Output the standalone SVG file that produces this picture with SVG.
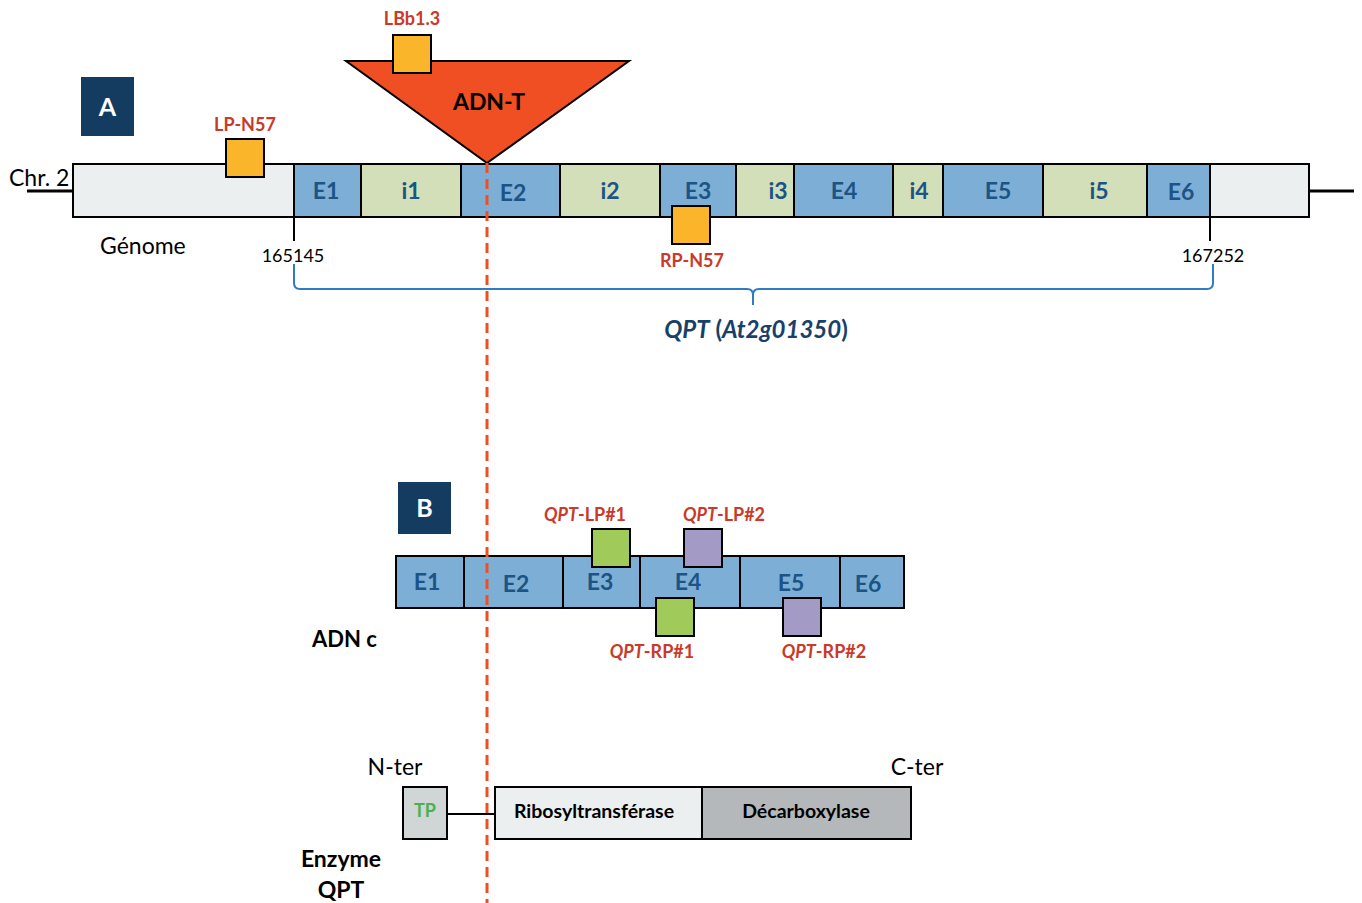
<svg xmlns="http://www.w3.org/2000/svg" width="1362" height="903" viewBox="0 0 1362 903">
<style>
text{font-family:Lato,"Open Sans","Liberation Sans",sans-serif}
.ex{fill:#7DAFD6;stroke:#000;stroke-width:2}
.in{fill:#D2DFB8;stroke:#000;stroke-width:2}
.fl{fill:#ECEFEF;stroke:#000;stroke-width:2}
.lab{font-weight:bold;font-size:23px;fill:#1B5485;text-anchor:middle}
.pr{font-weight:bold;font-size:18px;fill:#C93A2A;text-anchor:middle}
.yl{fill:#FBB52B;stroke:#000;stroke-width:2}
.gr{fill:#A0CA59;stroke:#000;stroke-width:2}
.pu{fill:#A39BC5;stroke:#000;stroke-width:2}
.num{font-size:18px;fill:#000;text-anchor:middle}
.blk{font-size:23px;fill:#000}
</style>
<g id="connectors">
<line x1="27" y1="191" x2="73" y2="191" stroke="#000" stroke-width="3"/>
<line x1="1309" y1="191" x2="1354" y2="191" stroke="#000" stroke-width="3"/>
<line x1="294" y1="218" x2="294" y2="241" stroke="#000" stroke-width="2"/>
<line x1="1210" y1="218" x2="1210" y2="241" stroke="#000" stroke-width="2"/>
<path d="M294 264 L294 283 Q294 289 300 289 L747 289 Q753 289 753 295 L753 305 M753 305 L753 295 Q753 289 759 289 L1207 289 Q1213 289 1213 283 L1213 264" fill="none" stroke="#2E7DC0" stroke-width="2"/>
<line x1="447" y1="814" x2="495" y2="814" stroke="#000" stroke-width="2"/>
</g>
<g id="label-A"><rect x="81" y="77" width="53" height="59" fill="#143C60"/><text x="107.5" y="116" font-size="25" font-weight="bold" fill="#fff" text-anchor="middle">A</text></g>
<g id="label-B"><rect x="398" y="482" width="53" height="52" fill="#143C60"/><text x="424.5" y="517" font-size="25" font-weight="bold" fill="#fff" text-anchor="middle">B</text></g>
<g id="chr"><text class="blk" x="9" y="186">Chr. 2</text><text class="blk" x="100" y="254" font-size="24">Génome</text></g>
<g id="genome">
<rect class="fl" x="73" y="164" width="221" height="53"/>
<rect class="ex" x="294" y="164" width="67" height="53"/>
<rect class="in" x="361" y="164" width="100" height="53"/>
<rect class="ex" x="461" y="164" width="99" height="53"/>
<rect class="in" x="560" y="164" width="100" height="53"/>
<rect class="ex" x="660" y="164" width="76" height="53"/>
<rect class="in" x="736" y="164" width="58" height="53"/>
<rect class="ex" x="794" y="164" width="99" height="53"/>
<rect class="in" x="893" y="164" width="50" height="53"/>
<rect class="ex" x="943" y="164" width="100" height="53"/>
<rect class="in" x="1043" y="164" width="104" height="53"/>
<rect class="ex" x="1147" y="164" width="63" height="53"/>
<rect class="fl" x="1210" y="164" width="99" height="53"/>
<text class="lab" x="326" y="199">E1</text>
<text class="lab" x="411" y="199">i1</text>
<text class="lab" x="513" y="201">E2</text>
<text class="lab" x="610" y="199">i2</text>
<text class="lab" x="698" y="199">E3</text>
<text class="lab" x="778" y="199">i3</text>
<text class="lab" x="844" y="199">E4</text>
<text class="lab" x="919" y="199">i4</text>
<text class="lab" x="998" y="199">E5</text>
<text class="lab" x="1099" y="199">i5</text>
<text class="lab" x="1181" y="200">E6</text>
</g>
<g id="coords"><text class="num" x="293" y="262">165145</text><text class="num" x="1213" y="262">167252</text></g>
<g id="gene-name"><text x="756" y="338" font-size="24" font-weight="bold" fill="#17416A" text-anchor="middle"><tspan font-style="italic">QPT</tspan> (<tspan font-style="italic">At2g01350</tspan>)</text></g>
<g id="tdna"><polygon points="346,61 629,61 487,163" fill="#F04E23" stroke="#000" stroke-width="2"/><text x="489" y="110" font-size="23" font-weight="bold" fill="#000" text-anchor="middle">ADN-T</text></g>
<g id="LBb1.3"><rect class="yl" x="393" y="35" width="38" height="38"/><text class="pr" x="412" y="25">LBb1.3</text></g>
<g id="LP-N57"><rect class="yl" x="226" y="139" width="38" height="38"/><text class="pr" x="245" y="131">LP-N57</text></g>
<g id="RP-N57"><rect class="yl" x="672" y="206" width="38" height="38"/><text class="pr" x="692" y="267">RP-N57</text></g>
<g id="cdna">
<rect class="ex" x="396" y="556" width="68" height="52"/>
<rect class="ex" x="464" y="556" width="99" height="52"/>
<rect class="ex" x="563" y="556" width="77" height="52"/>
<rect class="ex" x="640" y="556" width="100" height="52"/>
<rect class="ex" x="740" y="556" width="100" height="52"/>
<rect class="ex" x="840" y="556" width="64" height="52"/>
<text class="lab" x="427" y="590">E1</text>
<text class="lab" x="516" y="592">E2</text>
<text class="lab" x="600" y="590">E3</text>
<text class="lab" x="688" y="590">E4</text>
<text class="lab" x="791" y="591">E5</text>
<text class="lab" x="868" y="592">E6</text>
<text x="312" y="647" font-size="22" font-weight="bold" fill="#000">ADN c</text>
</g>
<g id="QPT-LP1"><rect class="gr" x="592" y="529" width="38" height="38"/><text class="pr" x="585" y="521"><tspan font-style="italic">QPT</tspan>-LP#1</text></g>
<g id="QPT-LP2"><rect class="pu" x="684" y="529" width="38" height="38"/><text class="pr" x="724" y="521"><tspan font-style="italic">QPT</tspan>-LP#2</text></g>
<g id="QPT-RP1"><rect class="gr" x="656" y="598" width="38" height="38"/><text class="pr" x="652" y="658"><tspan font-style="italic">QPT</tspan>-RP#1</text></g>
<g id="QPT-RP2"><rect class="pu" x="783" y="598" width="38" height="38"/><text class="pr" x="824" y="658"><tspan font-style="italic">QPT</tspan>-RP#2</text></g>
<g id="enzyme">
<rect x="403" y="787" width="44" height="52" fill="#D0D5D6" stroke="#000" stroke-width="2"/>
<text x="425" y="817" font-size="18" font-weight="bold" fill="#4CB050" text-anchor="middle">TP</text>
<rect x="495" y="787" width="207" height="52" fill="#ECEFEF" stroke="#000" stroke-width="2"/>
<rect x="702" y="787" width="209" height="52" fill="#B5B8BA" stroke="#000" stroke-width="2"/>
<text x="594" y="818" font-size="19.5" font-weight="bold" fill="#000" text-anchor="middle">Ribosyltransférase</text>
<text x="806" y="818" font-size="19.5" font-weight="bold" fill="#000" text-anchor="middle">Décarboxylase</text>
<text class="blk" x="395" y="775" text-anchor="middle">N-ter</text>
<text class="blk" x="917" y="775" text-anchor="middle">C-ter</text>
<text x="341" y="867" font-size="23" font-weight="bold" fill="#000" text-anchor="middle">Enzyme</text>
<text x="341" y="898" font-size="23" font-weight="bold" fill="#000" text-anchor="middle">QPT</text>
</g>
<g id="insertion-line"><line x1="487" y1="163" x2="487" y2="903" stroke="#F04E23" stroke-width="3" stroke-dasharray="10,6"/></g>
</svg>
